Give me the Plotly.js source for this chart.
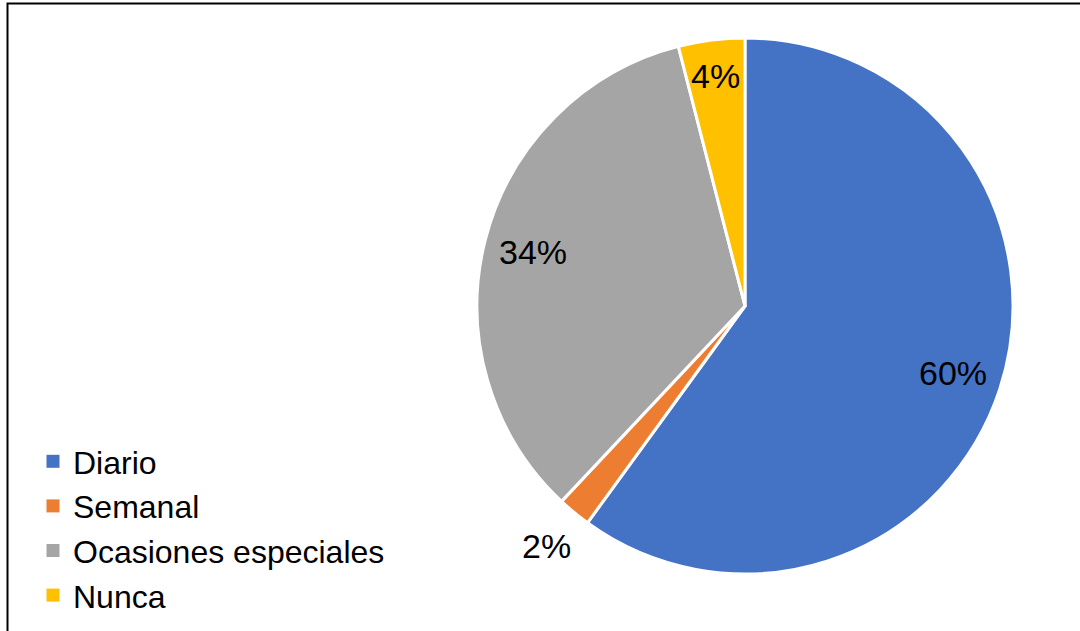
<!DOCTYPE html>
<html>
<head>
<meta charset="utf-8">
<script src="https://cdn.plot.ly/plotly-3.0.1.min.js"></script>
<style>
html,body{margin:0;padding:0;background:#fff;}
#chart{width:1080px;height:631px;}
</style>
</head>
<body>
<div id="chart"></div>
<script>
const categories = ["Diario", "Semanal", "Ocasiones especiales", "Nunca"];
const values = [60, 2, 34, 4];
const colors = ["#4472C4", "#ED7D31", "#A5A5A5", "#FFC000"];
const labelPlacement = ["inside", "outside", "inside", "inside"];

const FONT = "'Liberation Sans', Arial, Helvetica, sans-serif";
const W = 1080, H = 631;
const domain = {x: [477/W, 1013/W], y: [57/H, 593/H]};

const trace = {
  type: "pie",
  labels: categories,
  values: values,
  sort: false,
  direction: "clockwise",
  rotation: 0,
  marker: {colors: colors, line: {color: "#FFFFFF", width: 3}},
  textinfo: "none",
  hoverinfo: "label+percent",
  domain: domain,
  automargin: false
};

// Data labels placed along each slice's mid-angle (Excel-style "best fit")
const total = values.reduce((a, b) => a + b, 0);
const cx = (domain.x[0] + domain.x[1]) / 2;
const cy = (domain.y[0] + domain.y[1]) / 2;
const Rpx = Math.min((domain.x[1] - domain.x[0]) * W, (domain.y[1] - domain.y[0]) * H) / 2;
const annotations = [];
let cum = 0;
values.forEach((v, i) => {
  const share = v / total;
  const mid = (cum + share / 2) * 2 * Math.PI;
  cum += share;
  let rf;
  if (labelPlacement[i] === "outside") rf = 1.16;
  else rf = share < 0.1 ? 0.865 : 0.815;
  const r = rf * Rpx;
  annotations.push({
    xref: "paper", yref: "paper",
    x: cx + r * Math.sin(mid) / W,
    y: cy + r * Math.cos(mid) / H,
    xanchor: "center", yanchor: "middle",
    showarrow: false,
    text: Math.round(share * 100) + "%",
    font: {family: FONT, size: 34, color: "#000000"}
  });
});

const layout = {
  width: W,
  height: H,
  margin: {l: 0, r: 0, t: 0, b: 0},
  paper_bgcolor: "#FFFFFF",
  plot_bgcolor: "#FFFFFF",
  font: {family: FONT, color: "#000000"},
  showlegend: true,
  legend: {
    x: 33/W, xanchor: "left",
    y: 8/H, yanchor: "bottom",
    font: {family: FONT, size: 32, color: "#000000"},
    bgcolor: "rgba(0,0,0,0)",
    traceorder: "normal"
  },
  annotations: annotations,
  shapes: [{
    type: "rect", xref: "paper", yref: "paper",
    x0: 7.5/W, x1: 1.05, y0: -0.05, y1: 1 - 3.5/H,
    line: {color: "#000000", width: 2}, fillcolor: "rgba(0,0,0,0)", layer: "above"
  }]
};

Plotly.newPlot("chart", [trace], layout, {staticPlot: true, displayModeBar: false}).then(() => {
  document.querySelectorAll("#chart .legendpie").forEach(p => {
    p.setAttribute("d", "M6.5,6.5H-6.5V-6.5H6.5Z");
    p.style.strokeWidth = "0px";
  });
});
</script>
</body>
</html>
